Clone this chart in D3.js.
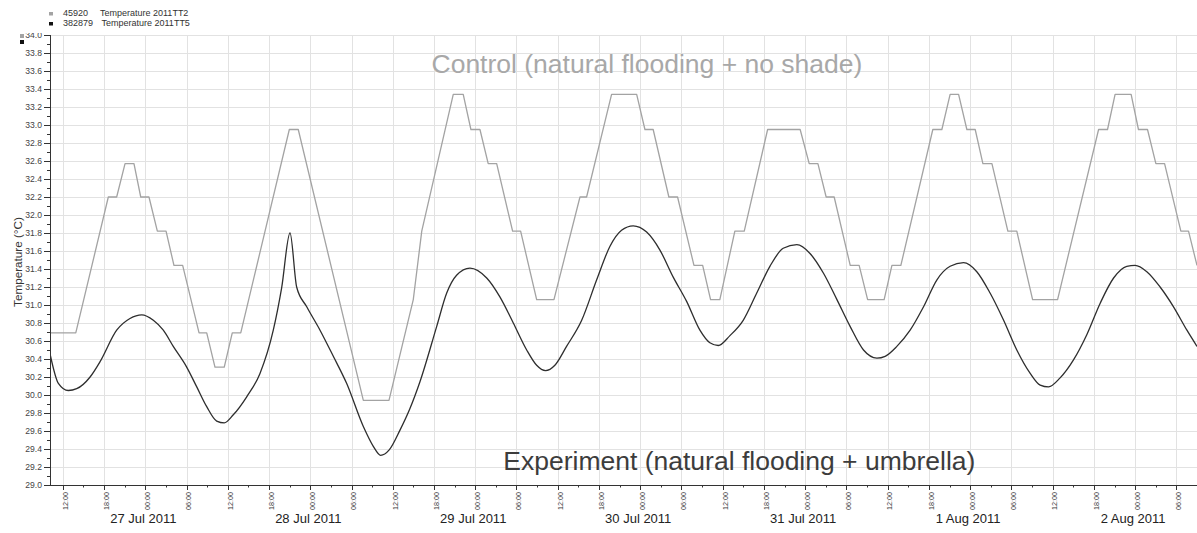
<!DOCTYPE html>
<html>
<head>
<meta charset="utf-8">
<script src="https://cdn.jsdelivr.net/npm/d3@7"></script>
<style>
  html, body { margin: 0; padding: 0; background: #fff; }
  svg { display: block; font-family: "Liberation Sans", Arial, sans-serif; }
</style>
</head>
<body>
<svg id="chart" width="1197" height="533"></svg>
<script>
// Logger readings, 26 Jul - 2 Aug 2011
const controlTime = [
  "2011-07-26 10:08","2011-07-26 13:53","2011-07-26 18:37","2011-07-26 19:50","2011-07-26 21:03","2011-07-26 22:21",
  "2011-07-26 23:20","2011-07-27 00:32","2011-07-27 01:45","2011-07-27 03:01","2011-07-27 04:10","2011-07-27 05:26",
  "2011-07-27 07:49","2011-07-27 08:56","2011-07-27 10:08","2011-07-27 11:29","2011-07-27 12:39","2011-07-27 13:53",
  "2011-07-27 20:57","2011-07-27 22:15","2011-07-28 07:43","2011-07-28 11:27","2011-07-28 14:59","2011-07-28 16:13",
  "2011-07-28 20:48","2011-07-28 22:15","2011-07-28 23:22","2011-07-29 00:41","2011-07-29 01:53","2011-07-29 03:07",
  "2011-07-29 05:26","2011-07-29 06:36","2011-07-29 08:56","2011-07-29 11:27","2011-07-29 15:14","2011-07-29 16:12",
  "2011-07-29 19:50","2011-07-29 23:29","2011-07-30 00:41","2011-07-30 01:53","2011-07-30 04:10","2011-07-30 05:26",
  "2011-07-30 07:49","2011-07-30 09:05","2011-07-30 10:14","2011-07-30 11:35","2011-07-30 13:46","2011-07-30 15:08",
  "2011-07-30 18:32","2011-07-30 23:16","2011-07-31 00:35","2011-07-31 01:51","2011-07-31 03:03","2011-07-31 04:13",
  "2011-07-31 06:33","2011-07-31 07:51","2011-07-31 09:05","2011-07-31 11:29","2011-07-31 12:37","2011-07-31 13:55",
  "2011-07-31 18:34","2011-07-31 19:53","2011-07-31 21:05","2011-07-31 22:19","2011-07-31 23:31","2011-08-01 00:44",
  "2011-08-01 01:51","2011-08-01 03:10","2011-08-01 05:29","2011-08-01 06:47","2011-08-01 09:05","2011-08-01 12:43",
  "2011-08-01 18:41","2011-08-01 19:59","2011-08-01 21:05","2011-08-01 23:25","2011-08-02 00:29","2011-08-02 01:48",
  "2011-08-02 03:01","2011-08-02 04:17","2011-08-02 06:39","2011-08-02 07:46","2011-08-02 09:00"
];
const controlTemp = [
  30.69,30.69,32.20,32.20,32.57,32.57,
  32.20,32.20,31.82,31.82,31.44,31.44,
  30.69,30.69,30.31,30.31,30.69,30.69,
  32.95,32.95,29.94,29.94,31.06,31.82,
  33.34,33.34,32.95,32.95,32.57,32.57,
  31.82,31.82,31.06,31.06,32.20,32.20,
  33.34,33.34,32.95,32.95,32.20,32.20,
  31.44,31.44,31.06,31.06,31.82,31.82,
  32.95,32.95,32.57,32.57,32.20,32.20,
  31.44,31.44,31.06,31.06,31.44,31.44,
  32.95,32.95,33.34,33.34,32.95,32.95,
  32.57,32.57,31.82,31.82,31.06,31.06,
  32.95,32.95,33.34,33.34,32.95,32.95,
  32.57,32.57,31.82,31.82,31.44
];

const experimentTime = [
  "2011-07-26 10:08","2011-07-26 11:21","2011-07-26 12:48","2011-07-26 14:01","2011-07-26 15:58","2011-07-26 17:25",
  "2011-07-26 19:50","2011-07-26 21:46","2011-07-26 23:29","2011-07-27 01:10","2011-07-27 02:37","2011-07-27 04:04",
  "2011-07-27 06:01","2011-07-27 07:29","2011-07-27 08:56","2011-07-27 10:23","2011-07-27 11:29","2011-07-27 12:48",
  "2011-07-27 14:45","2011-07-27 16:41","2011-07-27 18:37","2011-07-27 19:50","2011-07-27 21:03","2011-07-27 22:01",
  "2011-07-27 23:29","2011-07-28 01:25","2011-07-28 03:21","2011-07-28 05:17","2011-07-28 07:43","2011-07-28 09:10",
  "2011-07-28 10:14","2011-07-28 11:29","2011-07-28 13:03","2011-07-28 14:30","2011-07-28 15:58","2011-07-28 18:23",
  "2011-07-28 19:50","2011-07-28 21:17","2011-07-28 23:14","2011-07-29 01:40","2011-07-29 03:35","2011-07-29 05:32",
  "2011-07-29 07:29","2011-07-29 08:56","2011-07-29 10:14","2011-07-29 11:35","2011-07-29 13:17","2011-07-29 15:29",
  "2011-07-29 17:40","2011-07-29 19:35","2011-07-29 21:17","2011-07-29 22:59","2011-07-30 00:56","2011-07-30 02:52",
  "2011-07-30 04:48","2011-07-30 06:45","2011-07-30 08:41","2011-07-30 10:08","2011-07-30 11:21","2011-07-30 13:03",
  "2011-07-30 14:59","2011-07-30 16:56","2011-07-30 18:52","2011-07-30 20:48","2011-07-30 22:47","2011-07-31 00:44",
  "2011-07-31 02:41","2011-07-31 04:37","2011-07-31 06:33","2011-07-31 08:29","2011-07-31 10:26","2011-07-31 11:38",
  "2011-07-31 13:20","2011-07-31 15:16","2011-07-31 17:13","2011-07-31 19:10","2011-07-31 21:05","2011-07-31 23:02",
  "2011-08-01 00:58","2011-08-01 02:55","2011-08-01 04:52","2011-08-01 06:47","2011-08-01 08:44","2011-08-01 10:11",
  "2011-08-01 11:24","2011-08-01 13:05","2011-08-01 15:02","2011-08-01 16:58","2011-08-01 18:55","2011-08-01 20:52",
  "2011-08-01 22:47","2011-08-02 00:00","2011-08-02 01:42","2011-08-02 03:38","2011-08-02 05:35","2011-08-02 07:32",
  "2011-08-02 09:00"
];
const experimentTemp = [
  30.46,30.13,30.05,30.07,30.20,30.37,
  30.72,30.85,30.89,30.83,30.72,30.54,
  30.31,30.09,29.87,29.71,29.69,29.78,
  29.98,30.24,30.72,31.19,31.80,31.20,
  30.98,30.72,30.43,30.13,29.65,29.43,
  29.33,29.39,29.61,29.85,30.15,30.76,
  31.13,31.33,31.41,31.30,31.09,30.80,
  30.50,30.33,30.27,30.33,30.54,30.83,
  31.28,31.65,31.83,31.88,31.81,31.61,
  31.31,31.04,30.72,30.58,30.55,30.66,
  30.83,31.13,31.43,31.63,31.67,31.57,
  31.35,31.06,30.76,30.50,30.41,30.43,
  30.54,30.72,30.98,31.28,31.43,31.47,
  31.37,31.13,30.83,30.50,30.24,30.11,
  30.09,30.19,30.39,30.67,31.02,31.30,
  31.43,31.44,31.37,31.20,30.98,30.72,
  30.54
];

const timeRange = ["2011-07-26 10:08", "2011-08-02 09:00"];
const tempRange = [29.0, 34.0];
const legendIds = ["45920", "382879"];
const legendNames = ["Temperature 2011TT2", "Temperature 2011TT5"];
const yTitle = "Temperature (\u00B0C)";
const controlNote = "Control (natural flooding + no shade)";
const experimentNote = "Experiment (natural flooding + umbrella)";

const parse = d3.timeParse("%Y-%m-%d %H:%M");
const control = controlTime.map((t, i) => ({ t: parse(t), v: controlTemp[i] }));
const experiment = experimentTime.map((t, i) => ({ t: parse(t), v: experimentTemp[i] }));

const svg = d3.select("#chart");
const plotLeft = 50, plotRight = 1197, plotTop = 35, plotBottom = 485;

const x = d3.scaleTime().domain(timeRange.map(parse)).range([plotLeft, plotRight]);
const y = d3.scaleLinear().domain(tempRange).range([plotBottom, plotTop]);

const gridColor = "#e2e2e2";
const axisColor = "#333";

// grid
const majorY = d3.range(0, 26).map(i => +(29 + i * 0.2).toFixed(1));
const minorY = d3.range(0, 51).map(i => +(29 + i * 0.1).toFixed(1));
const sixHours = x.ticks(d3.timeHour.every(6));
const threeHours = x.ticks(d3.timeHour.every(3));
const midnights = x.ticks(d3.timeDay.every(1));

svg.append("g").selectAll("line").data(majorY.slice(1)).join("line")
  .attr("x1", plotLeft).attr("x2", plotRight)
  .attr("y1", d => Math.round(y(d)) + 0.5).attr("y2", d => Math.round(y(d)) + 0.5)
  .attr("stroke", gridColor).attr("stroke-width", 1);
svg.append("g").selectAll("line").data(sixHours).join("line")
  .attr("x1", d => Math.round(x(d)) + 0.5).attr("x2", d => Math.round(x(d)) + 0.5)
  .attr("y1", plotTop).attr("y2", plotBottom)
  .attr("stroke", gridColor).attr("stroke-width", 1);

// series
svg.append("clipPath").attr("id", "plot-clip")
  .append("rect").attr("x", plotLeft).attr("y", plotTop - 2)
  .attr("width", plotRight - plotLeft).attr("height", plotBottom - plotTop + 2);

const line = d3.line().x(d => x(d.t)).y(d => y(d.v));
svg.append("path").datum(control)
  .attr("clip-path", "url(#plot-clip)")
  .attr("fill", "none").attr("stroke", "#a3a3a3").attr("stroke-width", 1.3)
  .attr("stroke-linejoin", "round")
  .attr("d", line);
svg.append("path").datum(experiment)
  .attr("clip-path", "url(#plot-clip)")
  .attr("fill", "none").attr("stroke", "#2e2e2e").attr("stroke-width", 1.3)
  .attr("stroke-linejoin", "round")
  .attr("d", line.curve(d3.curveMonotoneX));

// y axis
svg.append("clipPath").attr("id", "yaxis-clip")
  .append("rect").attr("x", 0).attr("y", 33).attr("width", 60).attr("height", 470);
const yAxis = svg.append("g").attr("clip-path", "url(#yaxis-clip)");
yAxis.append("line").attr("x1", plotLeft + 0.5).attr("x2", plotLeft + 0.5)
  .attr("y1", plotTop).attr("y2", plotBottom)
  .attr("stroke", axisColor);
yAxis.append("g").selectAll("line").data(minorY).join("line")
  .attr("x1", d => (Math.round(d * 10) % 2 === 0) ? plotLeft - 6 : plotLeft - 3).attr("x2", plotLeft)
  .attr("y1", d => Math.round(y(d)) + 0.5).attr("y2", d => Math.round(y(d)) + 0.5)
  .attr("stroke", axisColor);
yAxis.append("g").selectAll("text").data(majorY).join("text")
  .attr("x", plotLeft - 8).attr("y", d => y(d)).attr("dy", "0.35em")
  .attr("text-anchor", "end").attr("font-size", 8.6).attr("fill", "#444")
  .text(d => d.toFixed(1));

// series markers by the y axis
svg.append("rect").attr("x", 20).attr("y", 34).attr("width", 4).attr("height", 4).attr("fill", "#a3a3a3");
svg.append("rect").attr("x", 20).attr("y", 40).attr("width", 4).attr("height", 4).attr("fill", "#111");

svg.append("text")
  .attr("transform", `translate(22,${(plotTop + plotBottom) / 2 + 2}) rotate(-90)`)
  .attr("text-anchor", "middle").attr("font-size", 11.7).attr("fill", "#333")
  .text(yTitle);

// x axis
svg.append("line").attr("x1", plotLeft).attr("x2", plotRight)
  .attr("y1", plotBottom + 0.5).attr("y2", plotBottom + 0.5)
  .attr("stroke", axisColor);
svg.append("g").selectAll("line").data(threeHours).join("line")
  .attr("x1", d => Math.round(x(d)) + 0.5).attr("x2", d => Math.round(x(d)) + 0.5)
  .attr("y1", plotBottom)
  .attr("y2", d => d.getHours() % 6 === 0 ? plotBottom + 5 : plotBottom + 2.5)
  .attr("stroke", axisColor);
const hourFmt = d3.timeFormat("%H:%M");
svg.append("g").selectAll("text").data(sixHours).join("text")
  .attr("transform", d => `translate(${x(d)},${plotBottom + 7}) rotate(-90)`)
  .attr("dy", 4.8)
  .attr("text-anchor", "end").attr("font-size", 7.2).attr("fill", "#3a3a3a")
  .text(d => hourFmt(d));
const dayFmt = d3.timeFormat("%-d %b %Y");
svg.append("g").selectAll("text").data(midnights).join("text")
  .attr("x", d => x(d) - 2).attr("y", 523)
  .attr("text-anchor", "middle").attr("font-size", 13).attr("fill", "#222")
  .text(d => dayFmt(d));

// legend
const legendColors = ["#a3a3a3", "#111"];
const legend = svg.append("g").selectAll("g").data(legendIds).join("g")
  .attr("transform", (d, i) => `translate(0,${15.5 + i * 10})`);
legend.append("rect").attr("x", 49).attr("y", -3.5).attr("width", 4).attr("height", 3.5)
  .attr("fill", (d, i) => legendColors[i]);
legend.append("text").attr("x", 63).attr("y", 0).attr("font-size", 9).attr("fill", "#333").text(d => d);
legend.append("text").attr("x", (d, i) => i === 0 ? 100 : 101.5).attr("y", 0)
  .attr("font-size", 9).attr("fill", "#333").text((d, i) => legendNames[i]);

// annotations
svg.append("text").attr("x", 431.5).attr("y", 73.3)
  .attr("font-size", 26.5).attr("fill", "#a8a8a8").text(controlNote);
svg.append("text").attr("x", 503.3).attr("y", 470)
  .attr("font-size", 26.5).attr("fill", "#3c3c3c").text(experimentNote);
</script>
</body>
</html>
